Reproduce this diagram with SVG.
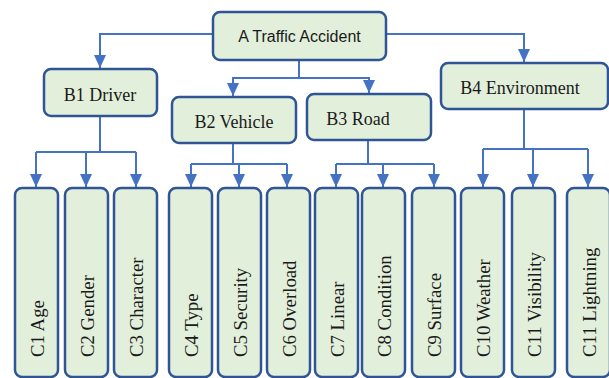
<svg xmlns="http://www.w3.org/2000/svg" width="609" height="378" viewBox="0 0 609 378">
<style>
.box{fill:#e2efda;stroke:#2f5597;stroke-width:2.5}
.conn{fill:none;stroke:#4472c4;stroke-width:2}
.ta{font-family:"Liberation Sans",Arial,sans-serif;font-size:16px;fill:#1a1a1a;text-anchor:middle}
.tb{font-family:"Liberation Serif","Times New Roman",serif;font-size:18px;fill:#1a1a1a;text-anchor:middle}
.tc{font-family:"Liberation Serif","Times New Roman",serif;font-size:18.8px;fill:#1a1a1a;text-anchor:start}
</style>
<defs>
<marker id="arr" viewBox="0 0 13 12" refX="13" refY="6" markerWidth="13" markerHeight="12" markerUnits="userSpaceOnUse" orient="auto">
<path d="M0,0 L13,6 L0,12 z" fill="#4472c4"/>
</marker>
</defs>
<rect width="609" height="378" fill="#ffffff"/>
<g id="connectors" class="conn">
<path d="M213,34 H100 V68" marker-end="url(#arr)"/>
<path d="M299,60 V78 H233 V96" marker-end="url(#arr)"/>
<path d="M299,78 H369 V93" marker-end="url(#arr)"/>
<path d="M386,34 H524 V62" marker-end="url(#arr)"/>
<path d="M100,116 V152 M36,152 H136"/>
<path d="M36,152 V187" marker-end="url(#arr)"/>
<path d="M86,152 V187" marker-end="url(#arr)"/>
<path d="M136,152 V187" marker-end="url(#arr)"/>
<path d="M233,143 V164 M191,164 H287"/>
<path d="M191,164 V187" marker-end="url(#arr)"/>
<path d="M239,164 V187" marker-end="url(#arr)"/>
<path d="M287,164 V187" marker-end="url(#arr)"/>
<path d="M368,140 V164 M336,164 H434"/>
<path d="M336,164 V187" marker-end="url(#arr)"/>
<path d="M383,164 V187" marker-end="url(#arr)"/>
<path d="M434,164 V187" marker-end="url(#arr)"/>
<path d="M524,109 V149 M483,149 H588"/>
<path d="M483,149 V187" marker-end="url(#arr)"/>
<path d="M533,149 V187" marker-end="url(#arr)"/>
<path d="M588,149 V187" marker-end="url(#arr)"/>
</g>
<g id="A"><rect class="box" x="213" y="12" width="173" height="48" rx="7"/><text class="ta" x="299.5" y="42">A Traffic Accident</text></g>
<g id="B1"><rect class="box" x="44" y="69" width="113" height="47" rx="7"/><text class="tb" x="100" y="101">B1 Driver</text></g>
<g id="B2"><rect class="box" x="172" y="97" width="124" height="46" rx="7"/><text class="tb" x="234" y="128">B2 Vehicle</text></g>
<g id="B3"><rect class="box" x="307" y="94" width="124" height="46" rx="7"/><text class="tb" x="358" y="125">B3 Road</text></g>
<g id="B4"><rect class="box" x="441" y="63" width="167" height="46" rx="7"/><text class="tb" x="520" y="94">B4 Environment</text></g>
<g id="C1"><rect class="box" x="15" y="188" width="43" height="189" rx="7"/><text class="tc" transform="translate(43.5,357) rotate(-90)">C1 Age</text></g>
<g id="C2"><rect class="box" x="65" y="188" width="43" height="189" rx="7"/><text class="tc" transform="translate(93.5,357) rotate(-90)">C2 Gender</text></g>
<g id="C3"><rect class="box" x="114" y="188" width="43" height="189" rx="7"/><text class="tc" transform="translate(142.5,357) rotate(-90)">C3 Character</text></g>
<g id="C4"><rect class="box" x="169" y="188" width="43" height="189" rx="7"/><text class="tc" transform="translate(197.5,357) rotate(-90)">C4 Type</text></g>
<g id="C5"><rect class="box" x="218" y="188" width="43" height="189" rx="7"/><text class="tc" transform="translate(246.5,357) rotate(-90)">C5 Security</text></g>
<g id="C6"><rect class="box" x="267" y="188" width="43" height="189" rx="7"/><text class="tc" transform="translate(295.5,357) rotate(-90)">C6 Overload</text></g>
<g id="C7"><rect class="box" x="315" y="188" width="43" height="189" rx="7"/><text class="tc" transform="translate(343.5,357) rotate(-90)">C7 Linear</text></g>
<g id="C8"><rect class="box" x="362" y="188" width="43" height="189" rx="7"/><text class="tc" transform="translate(390.5,357) rotate(-90)">C8 Condition</text></g>
<g id="C9"><rect class="box" x="412" y="188" width="43" height="189" rx="7"/><text class="tc" transform="translate(440.5,357) rotate(-90)">C9 Surface</text></g>
<g id="C10"><rect class="box" x="461" y="188" width="43" height="189" rx="7"/><text class="tc" transform="translate(489.5,357) rotate(-90)">C10 Weather</text></g>
<g id="C11a"><rect class="box" x="512" y="188" width="43" height="189" rx="7"/><text class="tc" transform="translate(540.5,357) rotate(-90)">C11 Visibility</text></g>
<g id="C11b"><rect class="box" x="567" y="188" width="43" height="189" rx="7"/><text class="tc" transform="translate(595.5,357) rotate(-90)">C11 Lightning</text></g>
</svg>
